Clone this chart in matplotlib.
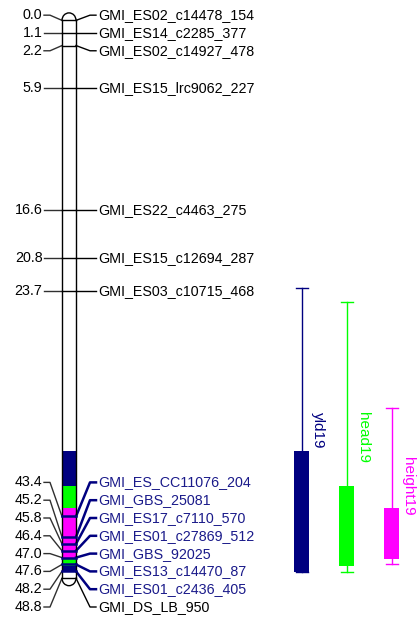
import matplotlib
matplotlib.use("Agg")
import matplotlib.pyplot as plt
from matplotlib.patches import Rectangle, Arc

# ---------------- data ----------------
marker_names = ["GMI_ES02_c14478_154", "GMI_ES14_c2285_377", "GMI_ES02_c14927_478",
                "GMI_ES15_lrc9062_227", "GMI_ES22_c4463_275", "GMI_ES15_c12694_287",
                "GMI_ES03_c10715_468", "GMI_ES_CC11076_204", "GMI_GBS_25081",
                "GMI_ES17_c7110_570", "GMI_ES01_c27869_512", "GMI_GBS_92025",
                "GMI_ES13_c14470_87", "GMI_ES01_c2436_405", "GMI_DS_LB_950"]
marker_pos = [0.0, 1.1, 2.2, 5.9, 16.6, 20.8, 23.7, 43.4, 45.2, 45.8, 46.4, 47.0, 47.6, 48.2, 48.8]

qtl_names = ["yld19", "head19", "height19"]
qtl_colors = ["#000080", "#00FF00", "#FF00FF"]
qtl_box_start = [37.7, 40.7, 42.7]
qtl_box_end = [48.3, 47.7, 47.1]
qtl_whisk_start = [23.4, 24.6, 33.9]
qtl_whisk_end = [48.3, 48.3, 47.6]

# ---------------- layout ----------------
W, H, DPI = 419, 621, 100
PX_PER_CM = 11.43
Y0 = 20.4  # pixel row of 0 cM
fig = plt.figure(figsize=(W / DPI, H / DPI), dpi=DPI)
ax = fig.add_axes([0, 0, 1, 1])
ax.set_xlim(0, W)
ax.set_ylim((H - Y0) / PX_PER_CM, -Y0 / PX_PER_CM)
ax.axis("off")

FONT = "Liberation Sans"
FS = 10.3
chrom_l, chrom_r = 62, 76
chrom_c = (chrom_l + chrom_r) / 2
chrom_end = max(marker_pos)

# label spreading
gap = 17.8 / PX_PER_CM
lo_bound = (14 - Y0) / PX_PER_CM
hi_bound = (607 - Y0) / PX_PER_CM
clusters = [[i] for i in range(len(marker_pos))]


def place(cl):
    n = len(cl)
    c = sum(marker_pos[i] for i in cl) / n
    first = c - (n - 1) / 2 * gap
    first = max(first, lo_bound)
    last = first + (n - 1) * gap
    if last > hi_bound:
        first -= last - hi_bound
    return [first + k * gap for k in range(n)]


changed = True
while changed:
    changed = False
    pos = [place(cl) for cl in clusters]
    for k in range(len(clusters) - 1):
        if pos[k + 1][0] - pos[k][-1] < gap - 1e-9:
            clusters[k] = clusters[k] + clusters[k + 1]
            del clusters[k + 1]
            changed = True
            break
label_y = []
for cl in clusters:
    label_y += place(cl)

# chromosome body
ax.add_patch(Rectangle((chrom_l, 0), chrom_r - chrom_l, chrom_end, facecolor="white",
                       edgecolor="none", zorder=1))
for s, e, col in zip(qtl_box_start, qtl_box_end, qtl_colors):
    ax.add_patch(Rectangle((chrom_l, s), chrom_r - chrom_l, e - s, facecolor=col,
                           edgecolor="none", zorder=2))
ax.plot([chrom_l, chrom_l], [0, chrom_end], color="black", lw=1, zorder=4)
ax.plot([chrom_r, chrom_r], [0, chrom_end], color="black", lw=1, zorder=4)
cap_h = 2 * 7.5 / PX_PER_CM
ax.add_patch(Arc((chrom_c, 0), chrom_r - chrom_l, cap_h, theta1=180, theta2=360,
                 color="black", lw=1, zorder=4))
ax.add_patch(Arc((chrom_c, chrom_end), chrom_r - chrom_l, cap_h, theta1=0, theta2=180,
                 color="black", lw=1, zorder=4))

# markers
in_qtl = [any(s <= p <= e for s, e in zip(qtl_box_start, qtl_box_end)) for p in marker_pos]
for name, p, ly, q in zip(marker_names, marker_pos, label_y, in_qtl):
    col = "#000080" if q else "black"
    lw_r = 1.8 if q else 1.0
    ax.plot([44, 50, chrom_l], [ly, ly, p], color="#303030", lw=1, zorder=3)
    ax.plot([chrom_l, chrom_r], [p, p], color=col, lw=lw_r, zorder=5)
    ax.plot([chrom_r, 90, 96], [p, ly, ly], color=col, lw=lw_r, zorder=3)
    ax.text(42.5, ly, f"{p:.1f}", ha="right", va="center", fontsize=FS, family=FONT,
            color="black")
    ax.text(98, ly, name, ha="left", va="center", fontsize=FS, family=FONT,
            color="#1a1a8a" if q else "black")

# QTL bars
qx = [301.5, 346.5, 391.5]
bw = 15
cw = 12
for name, col, x, bs, be, ws, we in zip(qtl_names, qtl_colors, qx, qtl_box_start,
                                        qtl_box_end, qtl_whisk_start, qtl_whisk_end):
    ax.plot([x, x], [ws, we], color=col, lw=1, zorder=2)
    ax.plot([x - cw / 2, x + cw / 2], [ws, ws], color=col, lw=1, zorder=2)
    ax.plot([x - cw / 2, x + cw / 2], [we, we], color=col, lw=1, zorder=2)
    ax.add_patch(Rectangle((x - bw / 2, bs), bw, be - bs, facecolor=col, edgecolor="none",
                           zorder=3))
    ax.text(x + 16.5, (ws + we) / 2, name, rotation=-90, ha="center", va="center",
            fontsize=11, family=FONT, color=col)

fig.savefig("out.png", dpi=DPI)
